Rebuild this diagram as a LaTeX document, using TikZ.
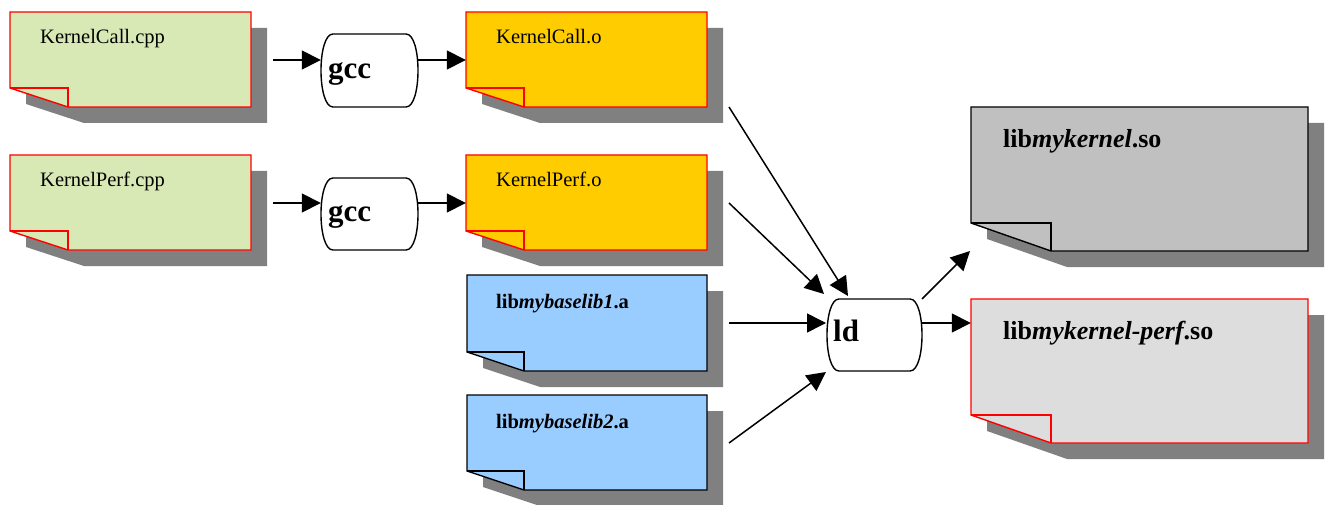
\documentclass[tikz,border=0pt]{standalone}
\usepackage{fontspec}
\setmainfont{Liberation Serif}
\usetikzlibrary{arrows.meta,fit}
\definecolor{greenf}{RGB}{216,233,181}
\definecolor{orangef}{RGB}{255,204,0}
\definecolor{bluef}{RGB}{153,204,255}
\definecolor{grayf}{RGB}{192,192,192}
\definecolor{lgrayf}{RGB}{221,221,221}
\definecolor{shadowc}{RGB}{128,128,128}
\definecolor{redl}{RGB}{255,0,0}
\tikzset{
  redbox/.style={draw=redl,line width=1.4pt,line join=miter},
  blackbox/.style={draw=black,line width=1.4pt,line join=miter},
  proc/.style={draw=black,line width=1.4pt,fill=white},
  arr/.style={line width=1.5pt,-{Triangle[length=19pt,width=19pt]}},
  small/.style={anchor=base west,inner sep=0pt,font=\fontsize{20.5}{24}\selectfont},
  smallb/.style={anchor=base west,inner sep=0pt,font=\fontsize{20.5}{24}\selectfont\bfseries},
  bigb/.style={anchor=base west,inner sep=0pt,font=\fontsize{26}{30}\selectfont\bfseries},
  procl/.style={anchor=base west,inner sep=0pt,font=\fontsize{31}{34}\selectfont\bfseries},
}
% #1 name, #2 x0, #3 y0, #4 x1, #5 y1, #6 fold dx, #7 fold dy, #8 fill, #9 border style
\newcommand\notebox[9]{%
  \fill[shadowc] (#2+16,#3+16) -- (#4+16,#3+16) -- (#4+16,#5+16) -- (#2+#6+16,#5+16) -- (#2+16,#5-#7+16) -- cycle;
  \draw[#9,fill=#8] (#2,#3) -- (#4,#3) -- (#4,#5) -- (#2+#6,#5) -- (#2,#5-#7) -- cycle;
  \draw[#9] (#2,#5-#7) -- (#2+#6,#5-#7) -- (#2+#6,#5);
  \coordinate (#1-nw) at (#2,#3);
  \coordinate (#1-se) at (#4,#5);
  \node[fit=(#1-nw)(#1-se),inner sep=0pt,draw=none] (#1) {};
}
% #1 name, #2 x0, #3 y0, #4 x1, #5 y1
\newcommand\procbox[5]{%
  \draw[proc] (#2+12,#3) -- (#4-12,#3) .. controls (#4+4,#3) and (#4+4,#5) .. (#4-12,#5)
     -- (#2+12,#5) .. controls (#2-4,#5) and (#2-4,#3) .. (#2+12,#3) -- cycle;
  \coordinate (#1-nw) at (#2,#3);
  \coordinate (#1-se) at (#4,#5);
  \node[fit=(#1-nw)(#1-se),inner sep=0pt,draw=none] (#1) {};
}
\begin{document}
\begin{tikzpicture}[x=1pt,y=-1pt]
\useasboundingbox (0,0) rectangle (1330,505);

% sources
\notebox{kcpp}{10}{12}{251}{107}{58}{19}{greenf}{redbox}
\node[small] (kcpp-t) at (40,44) {KernelCall.cpp};
\notebox{kpcpp}{10}{155}{251}{250}{58}{19}{greenf}{redbox}
\node[small] (kpcpp-t) at (40,187) {KernelPerf.cpp};

% gcc
\procbox{gcc1}{321}{34}{418}{107}
\node[procl] (gcc1-t) at (328,79) {gcc};
\procbox{gcc2}{321}{178}{418}{250}
\node[procl] (gcc2-t) at (328,222) {gcc};

% objects
\notebox{ko}{466}{12}{707}{107}{58}{19}{orangef}{redbox}
\node[small] (ko-t) at (496,44) {KernelCall.o};
\notebox{kpo}{466}{155}{707}{250}{58}{19}{orangef}{redbox}
\node[small] (kpo-t) at (496,187) {KernelPerf.o};

% libraries
\notebox{lib1}{467}{275}{707}{371}{57}{19}{bluef}{blackbox}
\node[smallb] (lib1-t) at (496,308) {lib\textit{mybaselib1}.a};
\notebox{lib2}{467}{395}{707}{490}{57}{19}{bluef}{blackbox}
\node[smallb] (lib2-t) at (496,428) {lib\textit{mybaselib2}.a};

% ld
\procbox{ld}{827}{299}{922}{371}
\node[procl] (ld-t) at (833,341) {ld};

% outputs
\notebox{so1}{971}{107}{1308}{251}{80}{28}{grayf}{blackbox}
\node[bigb] (so1-t) at (1003,148) {lib\textit{mykernel}.so};
\notebox{so2}{971}{299}{1308}{443}{80}{28}{lgrayf}{redbox}
\node[bigb] (so2-t) at (1003,339) {lib\textit{mykernel-perf}.so};

% connector end points
\coordinate (a1s) at (273,60);
\coordinate (a2s) at (273,203);
\coordinate (kos) at (729,107);
\coordinate (kpos) at (729,203);
\coordinate (l1s) at (729,323);
\coordinate (l2s) at (729,443);
\coordinate (ldi1) at (848,296);
\coordinate (ldi2) at (824,294);
\coordinate (ldi3) at (826,323);
\coordinate (ldi4) at (826,372);
\coordinate (ldo1) at (922,299);
\coordinate (ldo2) at (922,323);
\coordinate (so1i) at (970,251);

\draw[arr] (a1s) -- (gcc1.west |- a1s);
\draw[arr] (gcc1.east |- a1s) -- (ko.west |- a1s);
\draw[arr] (a2s) -- (gcc2.west |- a2s);
\draw[arr] (gcc2.east |- a2s) -- (kpo.west |- a2s);

\draw[arr] (kos) -- (ldi1);
\draw[arr] (kpos) -- (ldi2);
\draw[arr] (l1s) -- (ldi3);
\draw[arr] (l2s) -- (ldi4);

\draw[arr] (ldo1) -- (so1i);
\draw[arr] (ldo2) -- (so2.west |- ldo2);
\end{tikzpicture}
\end{document}
